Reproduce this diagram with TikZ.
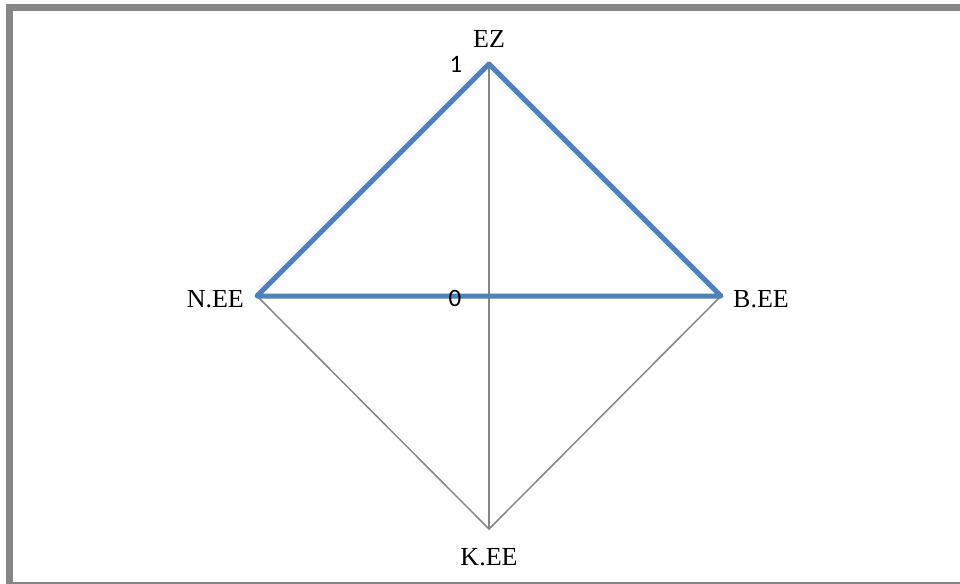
\documentclass[tikz,border=0pt]{standalone}
\usepackage{fontspec}
\setmainfont{Liberation Serif}
\newfontfamily\ticksfont{Carlito}
\usetikzlibrary{positioning}
\definecolor{seriesblue}{RGB}{79,129,189}
\definecolor{gridgray}{RGB}{134,134,134}

\begin{document}
\begin{tikzpicture}[x=1pt, y=-1pt,
  gridline/.style={draw=gridgray, line width=1.5pt},
  seriesline/.style={draw=seriesblue, line width=5pt, line join=round, line cap=round},
  axislabel/.style={font=\fontsize{26}{30}\selectfont, inner sep=1pt},
  ticklabel/.style={font=\ticksfont\fontsize{25}{30}\selectfont, inner sep=1pt}]
  \clip (0,0) rectangle (960,583);
  \useasboundingbox (0,0) rectangle (960,583);
  \fill[white] (0,0) rectangle (960,583);
  \draw[gridgray, line width=7pt] (9.5,7.5) rectangle (970,585);
  % axis ends
  \coordinate (o) at (489,296);
  \coordinate (ez) at (489,64);
  \coordinate (bee) at (721,296);
  \coordinate (kee) at (489,529);
  \coordinate (nee) at (257,296);
  % grid
  \draw[gridline] (ez) -- (bee) -- (kee) -- (nee) -- cycle;
  \draw[gridline] (o) -- (ez);
  \draw[gridline] (o) -- (kee);
  % series
  \draw[seriesline] (nee) -- (ez) -- (bee) -- (o) -- cycle;
  % labels
  \node[axislabel, above=15pt of ez] (ezlabel) {EZ};
  \node[axislabel, right=11pt of bee, yshift=-3pt] (beelabel) {B.EE};
  \node[axislabel, below=18pt of kee] (keelabel) {K.EE};
  \node[axislabel, left=12pt of nee, yshift=-3pt] (neelabel) {N.EE};
  \node[ticklabel] (tickone) at (456,64) {1};
  \node[ticklabel] (tickzero) at (455,298) {0};
\end{tikzpicture}
\end{document}
